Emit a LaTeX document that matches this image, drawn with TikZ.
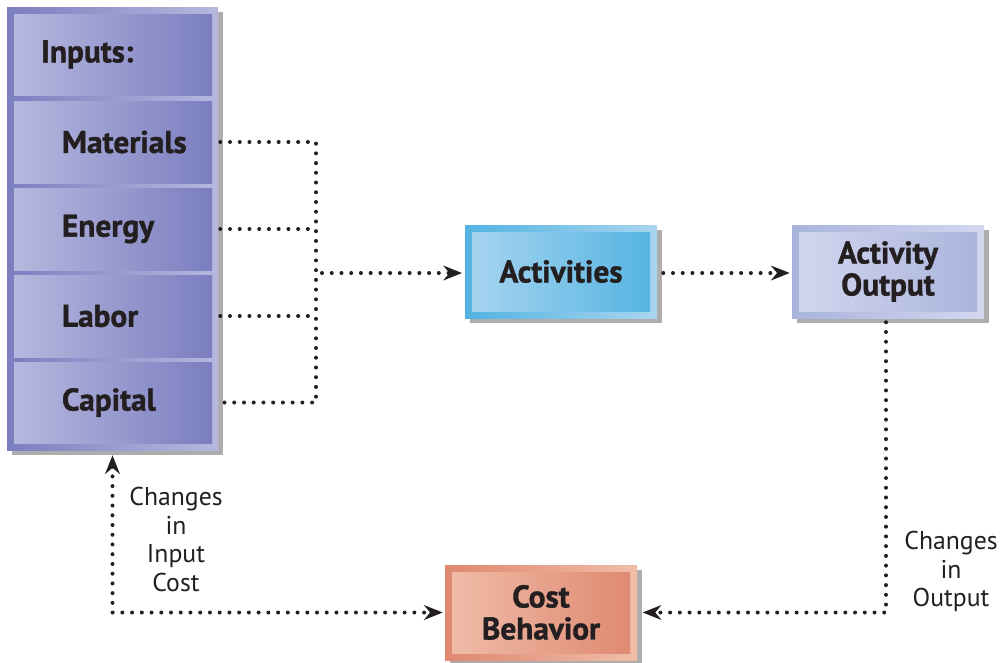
\documentclass[tikz,border=0pt]{standalone}
\usepackage{fontspec}
\setmainfont{PT Sans}[BoldFeatures={FakeBold=1.2}]
\usetikzlibrary{arrows.meta,calc,shadows}

\definecolor{ink}{HTML}{231F20}
\definecolor{lavDark}{HTML}{7B7EBF}
\definecolor{lavLight}{HTML}{B6B8DF}
\definecolor{skyDark}{HTML}{52B3E1}
\definecolor{skyLight}{HTML}{A9D5F0}
\definecolor{periDark}{HTML}{A9B3DC}
\definecolor{periLight}{HTML}{D3D7EF}
\definecolor{coralDark}{HTML}{DF8870}
\definecolor{coralLight}{HTML}{EFBDA9}

\tikzset{
  boxshadow/.style={drop shadow={shadow xshift=3.75pt, shadow yshift=-3.75pt, opacity=1, fill=black!32}},
  % framed box: outer band shaded one way, inner panel shaded the other way
  framed/.style 2 args={boxshadow, left color=#1, right color=#2,
    path picture={\shade[left color=#2, right color=#1]
      ($(path picture bounding box.north west)+(7,7)$) rectangle
      ($(path picture bounding box.south east)+(-7,-7)$);}},
  boldtext/.style={font=\fontsize{23.5}{24}\selectfont\bfseries},
  procbox/.style={boldtext, minimum width=144pt, minimum height=69.75pt, inner sep=0pt,
    text=ink, align=center},
  cell/.style={left color=lavLight, right color=lavDark, minimum width=148.5pt, inner sep=0pt},
  celltext/.style={boldtext, anchor=west, text=ink, inner sep=0pt},
  note/.style={text=ink, align=center, font=\fontsize{19.3}{21.4}\selectfont},
  dotline/.style={draw=ink, line width=3pt, line cap=round, dash pattern=on 0pt off 7.3pt},
  tiphead/.style={-{Stealth[length=14pt, width=11pt]}},
}

\begin{document}
\begin{tikzpicture}[x=0.75pt, y=-0.75pt]
\useasboundingbox (0,0) rectangle (1000,662);

% input column: frame and its five cells
\node[boxshadow, left color=lavDark, right color=lavLight,
      minimum width=158.25pt, minimum height=332.25pt, inner sep=0pt] (inputs) at (112.5,228.5) {};
\node[cell, minimum height=60.75pt] (inp) at (113,54.5) {};
\node[cell, minimum height=61.5pt] (mat) at (113,142) {};
\node[cell, minimum height=61.5pt] (ene) at (113,229) {};
\node[cell, minimum height=61.5pt] (lab) at (113,316) {};
\node[cell, minimum height=60.75pt] (cap) at (113,402.5) {};
\node[celltext] (inpT) at ([xshift=20.25pt]inp.west) {Inputs:};
\node[celltext] (matT) at ([xshift=36pt]mat.west) {Materials};
\node[celltext] (eneT) at ([xshift=36pt]ene.west) {Energy};
\node[celltext] (labT) at ([xshift=36pt]lab.west) {Labor};
\node[celltext] (capT) at ([xshift=36pt]cap.west) {Capital};

% process boxes
\node[procbox, framed={skyDark}{skyLight}] (act) at (561,271.5) {Activities};
\node[procbox, framed={periDark}{periLight}] (out) at (888,271.5) {Activity\\Output};
\node[procbox, framed={coralDark}{coralLight}, minimum height=71.25pt] (cost) at (541,612.5) {Cost\\Behavior};

% inputs merge onto a bus
\coordinate (bus) at (316,273);
\draw[dotline] ([xshift=1.5pt]inputs.east |- mat) -| (bus |- cap) -- ([xshift=1.5pt]inputs.east |- cap);
\draw[dotline] ([xshift=1.5pt]inputs.east |- ene) -- (bus |- ene);
\draw[dotline] ([xshift=1.5pt]inputs.east |- lab) -- (bus |- lab);
\draw[dotline, tiphead] ([xshift=4.5pt]bus) -- ([xshift=-2pt]act.west |- bus);
\draw[dotline, tiphead] ([xshift=4.5pt]act.east |- bus) -- ([xshift=-1.5pt]out.west |- bus);

% feedback to cost behaviour
\draw[dotline, tiphead] ([xshift=-1.5pt, yshift=-3pt]out.south) |- ([xshift=4pt]cost.east);
\draw[dotline, {Stealth[length=14pt, width=11pt]}-{Stealth[length=14pt, width=11pt]}]
  ([yshift=-3.75pt]inputs.south) |- ([xshift=-1.5pt]cost.west);

\node[note] (noteIn) at (176,539.5) {Changes\\in\\Input\\Cost};
\node[note] (noteOut) at (951,571.5) {Changes\\in\\Output};
\end{tikzpicture}
\end{document}
